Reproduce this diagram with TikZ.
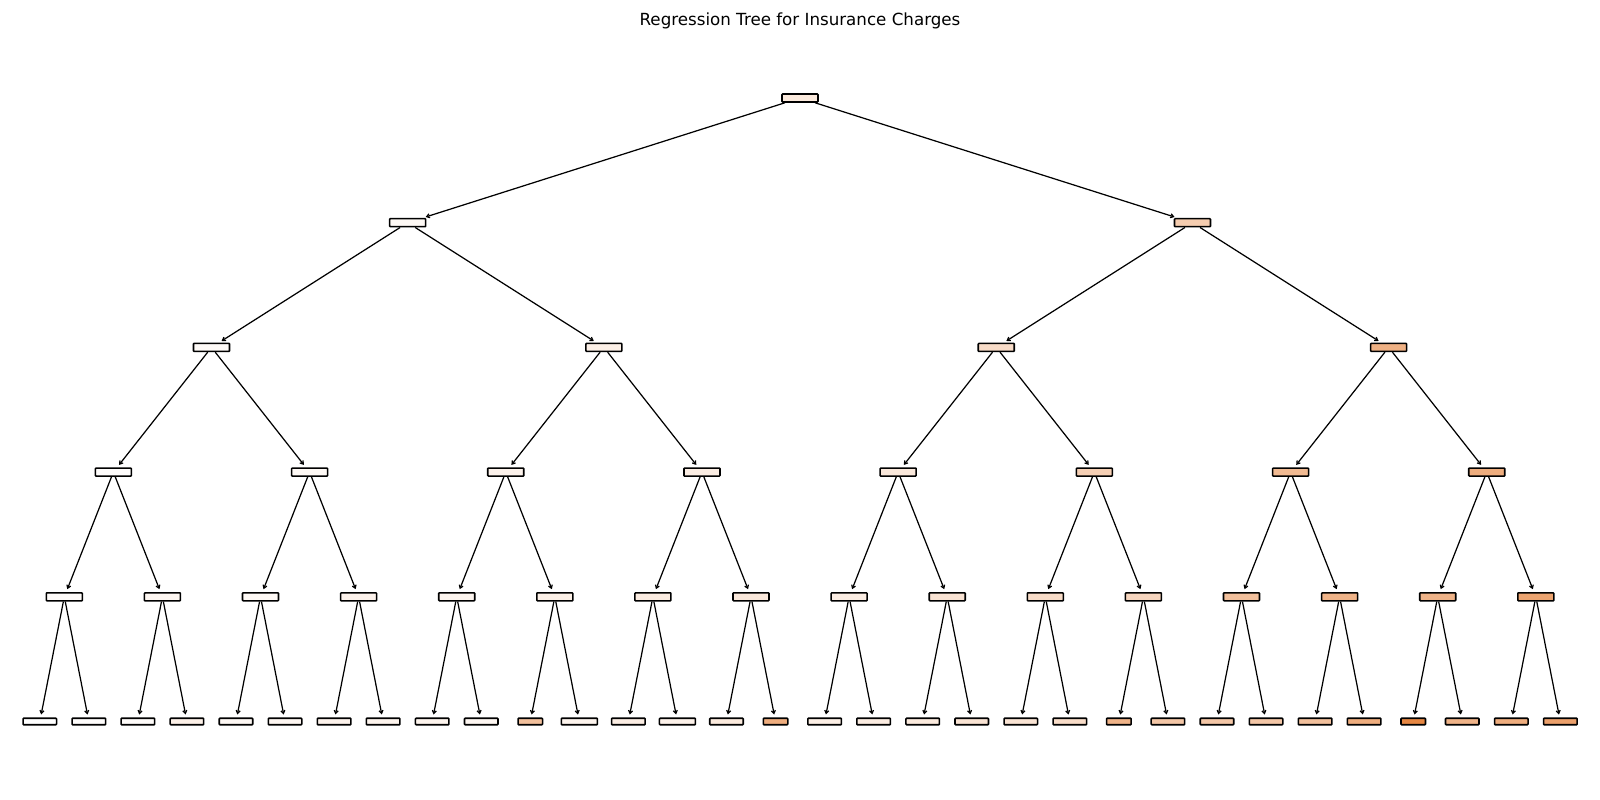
\documentclass[tikz,border=0pt]{standalone}
\usepackage{fontspec}
\setmainfont{DejaVu Sans}
\usepackage{xcolor}
\usetikzlibrary{arrows.meta, positioning}
\definecolor{tone}{HTML}{E58139}

\begin{document}
\begin{tikzpicture}[
    split/.style={rectangle, rounded corners=0.2pt, minimum width=0.36cm, minimum height=0.08cm, inner sep=0pt, draw=black, line width=0.45pt},
    leaf/.style={split, minimum height=0.065cm},
    edge/.style={line width=0.35pt, shorten >=0.3mm, -{Straight Barb[length=0.3mm, width=0.4mm]}}
]
\useasboundingbox (0,0) rectangle (16,8);
\node (title) [font=\fontsize{4.75}{5.5}\selectfont] at (8,7.79) {Regression Tree for Insurance Charges};
\node (n0-0) [split, fill=tone!17!white] at (8,7.02) {};
\foreach \a [count=\i from 0] in {5,40}
    \node (n1-\i) [split, fill=tone!\a!white] at ({0.398+0.4905*(16*(\i+0.5)-0.5)}, 5.773) {};
\foreach \a [count=\i from 0] in {4,12,28,62}
    \node (n2-\i) [split, fill=tone!\a!white] at ({0.398+0.4905*(8*(\i+0.5)-0.5)}, 4.526) {};
\foreach \a [count=\i from 0] in {2,5,10,14,18,38,55,65}
    \node (n3-\i) [split, fill=tone!\a!white] at ({0.398+0.4905*(4*(\i+0.5)-0.5)}, 3.279) {};
\foreach \a [count=\i from 0] in {3,7,5,10,8,12,15,18,14,22,28,33,50,60,60,72}
    \node (n4-\i) [split, fill=tone!\a!white] at ({0.398+0.4905*(2*(\i+0.5)-0.5)}, 2.032) {};
\foreach \a/\w [count=\i from 0] in {0/.335,2/.335,3/.335,12/.335,6/.335,7/.335,10/.335,9/.335,
        9/.335,7/.335,50/.245,9/.36,14/.335,11/.36,17/.335,65/.245,
        13/.335,15/.335,17/.335,22/.335,22/.335,28/.335,60/.245,45/.335,
        45/.335,45/.335,50/.335,65/.335,95/.245,60/.335,65/.335,75/.335}
    \node (n5-\i) [leaf, minimum width=\w cm, fill=tone!\a!white] at ({0.398+0.4905*\i}, 0.785) {};
\foreach \L in {1,...,5} {
    \pgfmathtruncatemacro\up{\L-1}
    \pgfmathtruncatemacro\last{2^\L-1}
    \foreach \i in {0,...,\last} {
        \pgfmathtruncatemacro\p{floor(\i/2)}
        \draw [edge] (n\up-\p) -- (n\L-\i);
    }
}
\end{tikzpicture}
\end{document}
